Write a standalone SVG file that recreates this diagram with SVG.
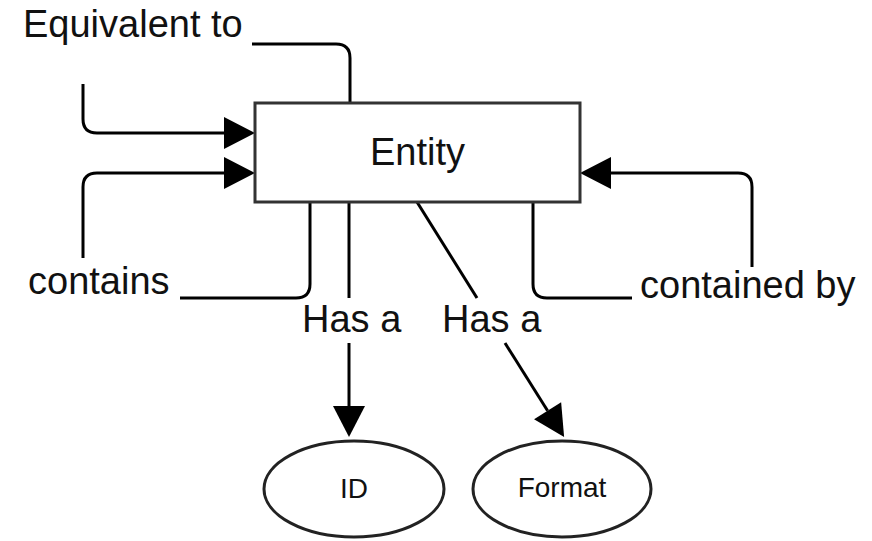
<svg xmlns="http://www.w3.org/2000/svg" width="872" height="541" viewBox="0 0 872 541">
  <style>
    .node-box { fill: #ffffff; stroke: #333333; stroke-width: 3; }
    .node-oval { fill: #ffffff; stroke: #222222; stroke-width: 3; }
    .edge { fill: none; stroke: #000000; stroke-width: 3; }
    .label { font-family: "Liberation Sans", Arial, Helvetica, sans-serif; font-size: 38px; fill: #111111; }
    .small { font-family: "Liberation Sans", Arial, Helvetica, sans-serif; font-size: 28px; fill: #111111; }
  </style>
  <defs>
    <marker id="arrow" markerUnits="userSpaceOnUse" markerWidth="32" markerHeight="32" refX="0" refY="16" orient="auto" overflow="visible">
      <path d="M0,0 L31,16 L0,32 Z" fill="#000000"/>
    </marker>
  </defs>

  <rect width="872" height="541" fill="#ffffff"/>

  <!-- connectors -->
  <g id="connectors">
    <!-- Equivalent to: self loop over the top and into the left side -->
    <path class="edge" d="M252,44 H336 Q350,44 350,58 V103"/>
    <path class="edge" d="M83,84 V119 Q83,133 97,133 H224" marker-end="url(#arrow)"/>
    <!-- contains: self loop from the bottom into the left side -->
    <path class="edge" d="M310,202 V284 Q310,298 296,298 H180"/>
    <path class="edge" d="M83,258 V187 Q83,173 97,173 H224" marker-end="url(#arrow)"/>
    <!-- contained by: self loop from the bottom into the right side -->
    <path class="edge" d="M533,202 V284 Q533,298 547,298 H632"/>
    <path class="edge" d="M752,267 V187 Q752,173 738,173 H611" marker-end="url(#arrow)"/>
    <!-- Has a: Entity to ID -->
    <path class="edge" d="M349,202 V298"/>
    <path class="edge" d="M349,343 V406" marker-end="url(#arrow)"/>
    <!-- Has a: Entity to Format -->
    <path class="edge" d="M417,202 L477,298"/>
    <path class="edge" d="M505,343 L547.6,410.7" marker-end="url(#arrow)"/>

    <text class="label" x="23" y="37">Equivalent to</text>
    <text class="label" x="28" y="294">contains</text>
    <text class="label" x="640" y="298">contained by</text>
    <text class="label" x="302" y="332">Has a</text>
    <text class="label" x="442" y="332">Has a</text>
  </g>

  <g id="entity">
    <rect class="node-box" x="255" y="103" width="325" height="99"/>
    <text class="label" x="417.5" y="165" text-anchor="middle">Entity</text>
  </g>

  <g id="id">
    <ellipse class="node-oval" cx="354" cy="489" rx="90" ry="48"/>
    <text class="small" x="354" y="498" text-anchor="middle">ID</text>
  </g>

  <g id="format">
    <ellipse class="node-oval" cx="562" cy="489" rx="89" ry="48"/>
    <text class="small" x="562" y="497" text-anchor="middle">Format</text>
  </g>
</svg>
